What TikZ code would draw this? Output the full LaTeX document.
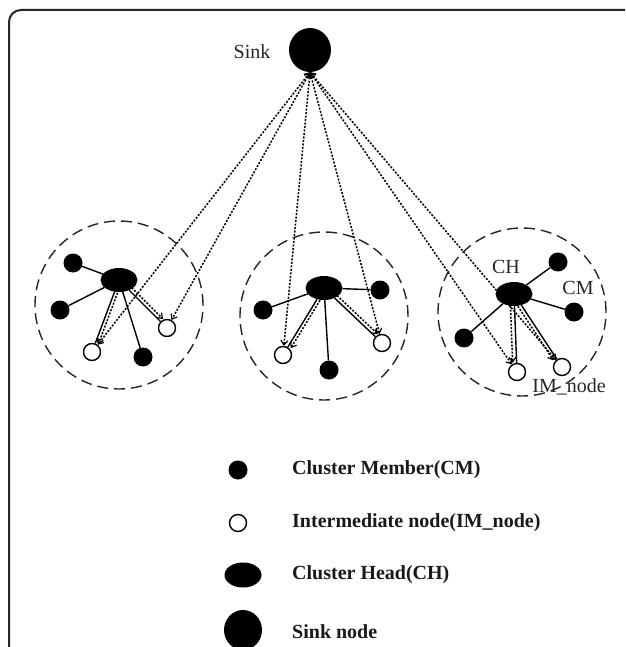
\documentclass[tikz,border=0pt]{standalone}
\usepackage{fontspec}
\setmainfont{Liberation Serif}
\usetikzlibrary{arrows.meta,shapes.geometric}
\pgfdeclarelayer{bg}
\pgfsetlayers{bg,main}

\begin{document}
\begin{tikzpicture}[x=1pt,y=-1pt,
  memberdot/.style={circle,fill=black,inner sep=0,minimum size=19pt},
  interdot/.style={circle,draw=black,fill=white,line width=1.4pt,inner sep=0,minimum size=17pt},
  headdot/.style={ellipse,fill=black,inner sep=0,minimum width=37pt,minimum height=24pt},
  sinkdot/.style={ellipse,fill=black,inner sep=0,minimum width=42pt,minimum height=44pt},
  clusterring/.style={circle,draw=black!85,dash pattern=on 11pt off 6pt,line width=1.4pt,inner sep=0,minimum size=168pt},
  link/.style={line width=1.4pt},
  tipmark/.tip={Straight Barb[length=4.5pt,width=7pt,line width=1.2pt]},
  msgline/.style={line width=1.5pt,dash pattern=on 2pt off 1.5pt,-tipmark},
  msgboth/.style={line width=1.5pt,dash pattern=on 2pt off 1.5pt,tipmark-tipmark},
  lbl/.style={font=\fontsize{20}{22}\selectfont,text=black!85,inner sep=0},
  legendtext/.style={font=\bfseries\fontsize{20}{22}\selectfont,text=black!90,anchor=west,inner sep=0}
]
\useasboundingbox (0,0) rectangle (625,647);
\clip (0,0) rectangle (625,647);

% outer frame
\draw[line width=2pt,draw=black!85,rounded corners=12pt] (9,10) rectangle (660,690);

% sink
\node[sinkdot] (sink) at (310,50) {};
\node[lbl] (sinklbl) at (252,52) {Sink};

% cluster 1
\node[clusterring] (c1) at (119,305) {};
\node[headdot] (ch1) at (119,280) {};
\node[memberdot] (m1a) at (73,263) {};
\node[memberdot] (m1b) at (60,310) {};
\node[memberdot] (m1c) at (143,357) {};
\node[interdot] (i1a) at (167,328) {};
\node[interdot] (i1b) at (92,352) {};

% cluster 2
\node[clusterring] (c2) at (324,316) {};
\node[headdot] (ch2) at (324,288) {};
\node[memberdot] (m2a) at (263,310) {};
\node[memberdot] (m2b) at (380,290) {};
\node[memberdot] (m2c) at (329,370) {};
\node[interdot] (i2a) at (283,355) {};
\node[interdot] (i2b) at (382,343) {};

% cluster 3
\node[clusterring] (c3) at (522,312) {};
\node[headdot] (ch3) at (514,294) {};
\node[memberdot] (m3a) at (558,262) {};
\node[memberdot] (m3b) at (574,312) {};
\node[memberdot] (m3c) at (464,338) {};
\node[interdot] (i3a) at (517,372) {};
\node[interdot] (i3b) at (562,367) {};
\node[lbl] (chlbl) at (506,267) {CH};
\node[lbl] (cmlbl) at (578,288) {CM};
\node[lbl] (imlbl) at (569,387) {IM\_node};

\begin{pgfonlayer}{bg}
  % cluster links
  \foreach \h/\n in {ch1/m1a,ch1/m1b,ch1/m1c,ch1/i1a,ch1/i1b,
                     ch2/m2a,ch2/m2b,ch2/m2c,ch2/i2a,ch2/i2b,
                     ch3/m3a,ch3/m3b,ch3/m3c,ch3/i3a,ch3/i3b}
    \draw[link] (\h) -- (\n);
  % head to intermediate messages
  \draw[msgline,transform canvas={shift={(2.5pt,2.5pt)}}] (ch1) -- (i1a);
  \draw[msgline,transform canvas={shift={(3pt,-1pt)}}] (ch1) -- (i1b);
  \draw[msgline,transform canvas={shift={(3pt,-1pt)}}] (ch2) -- (i2a);
  \draw[msgline,transform canvas={shift={(2.5pt,2.5pt)}}] (ch2) -- (i2b);
  \draw[msgline,transform canvas={shift={(-4pt,0pt)}}] (ch3) -- (i3a);
  \draw[msgline,transform canvas={shift={(-3.5pt,-1pt)}}] (ch3) -- (i3b);
  % sink to intermediate messages
  \foreach \n in {i1a,i1b,i2a,i2b,i3a,i3b}
    \draw[msgboth] (sink.south) -- (\n);
\end{pgfonlayer}

% legend
\node[memberdot] (lgcm) at (238,470) {};
\node[legendtext] (lgcmt) at (292,470) {Cluster Member(CM)};
\node[interdot] (lgim) at (238,523) {};
\node[legendtext] (lgimt) at (292,523) {Intermediate node(IM\_node)};
\node[headdot,minimum width=37pt,minimum height=25pt] (lgch) at (243,575) {};
\node[legendtext] (lgcht) at (292,575) {Cluster Head(CH)};
\node[sinkdot,minimum width=38pt,minimum height=40pt] (lgsink) at (243,630) {};
\node[legendtext] (lgsinkt) at (292,632) {Sink node};
\end{tikzpicture}
\end{document}
